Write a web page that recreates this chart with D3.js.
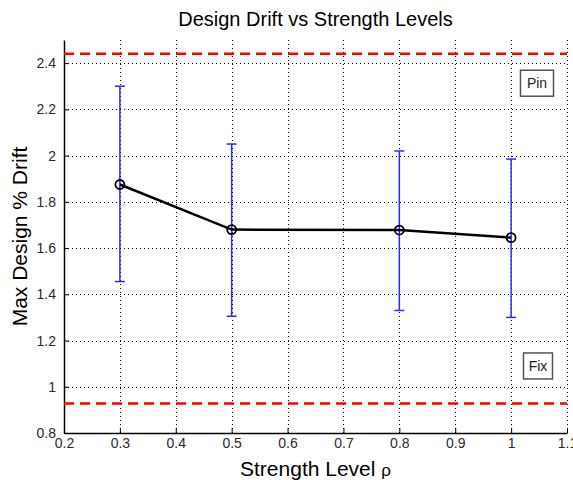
<!DOCTYPE html>
<html>
<head>
<meta charset="utf-8">
<script src="https://cdn.jsdelivr.net/npm/d3@7"></script>
<style>
  html, body { margin: 0; padding: 0; background: #fff; }
  svg { display: block; font-family: "Liberation Sans", Arial, Helvetica, sans-serif; }
</style>
</head>
<body>
<svg id="chart" width="573" height="480"></svg>
<script>
// Strength levels and drift statistics
const strengthLevels = [0.3, 0.5, 0.8, 1.0];
const meanDrift = [1.875, 1.68, 1.678, 1.645];
const upperDrift = [2.30, 2.05, 2.02, 1.985];
const lowerDrift = [1.455, 1.305, 1.33, 1.30];

// Reference limits
const limitLabels = ["Pin", "Fix"];
const limitValues = [2.44, 0.928];

// Axis ticks
const xTicks = [0.2, 0.3, 0.4, 0.5, 0.6, 0.7, 0.8, 0.9, 1.0, 1.1];
const yTicks = [0.8, 1.0, 1.2, 1.4, 1.6, 1.8, 2.0, 2.2, 2.4];

(function () {
const svg = d3.select("#chart");
const plotL = 64, plotR = 567, plotT = 40, plotB = 433;

const x = d3.scaleLinear().domain([0.2, 1.1]).range([plotL, plotR]);
const y = d3.scaleLinear().domain([0.8, 2.5]).range([plotB, plotT]);

// Dotted grid
const grid = svg.append("g").attr("stroke", "#000").attr("stroke-width", 1)
  .attr("stroke-dasharray", "1,3");
grid.selectAll(".gx").data(xTicks.slice(1)).join("line")
  .attr("x1", d => Math.round(x(d)) + 0.5).attr("x2", d => Math.round(x(d)) + 0.5)
  .attr("y1", plotT).attr("y2", plotB);
grid.selectAll(".gy").data(yTicks.slice(1)).join("line")
  .attr("y1", d => Math.round(y(d)) + 0.5).attr("y2", d => Math.round(y(d)) + 0.5)
  .attr("x1", plotL).attr("x2", plotR);

// Axes with inward ticks
const xAxis = d3.axisBottom(x).tickValues(xTicks).tickSizeInner(-5).tickSizeOuter(0)
  .tickPadding(7).tickFormat(d3.format("~g"));
const yAxis = d3.axisLeft(y).tickValues(yTicks).tickSizeInner(-5).tickSizeOuter(0)
  .tickPadding(8).tickFormat(d3.format("~g"));

const gx = svg.append("g").attr("transform", `translate(0,${plotB})`).call(xAxis);
const gy = svg.append("g").attr("transform", `translate(${plotL},0)`).call(yAxis);
[gx, gy].forEach(g => {
  g.select(".domain").attr("stroke", "#000").attr("stroke-width", 1.5);
  g.selectAll(".tick line").attr("stroke", "#000");
  g.selectAll(".tick text").attr("fill", "#2a2a2a").style("font-size", "14px")
    .style("font-family", "'Liberation Sans', Arial, sans-serif");
});
gx.selectAll(".tick text").attr("dy", "0.6em");

// Limit lines
svg.append("g").selectAll("line").data(limitValues).join("line")
  .attr("x1", plotL).attr("x2", plotR)
  .attr("y1", d => y(d)).attr("y2", d => y(d))
  .attr("stroke", "#ff0000").attr("stroke-width", 2.5)
  .attr("stroke-dasharray", "10,6");

// Error bars
const eb = svg.append("g").attr("stroke", "#2b2bff").attr("stroke-width", 1.5);
strengthLevels.forEach((s, i) => {
  eb.append("line").attr("x1", x(s)).attr("x2", x(s))
    .attr("y1", y(upperDrift[i])).attr("y2", y(lowerDrift[i]));
  [upperDrift[i], lowerDrift[i]].forEach(v => {
    eb.append("line").attr("x1", x(s) - 5).attr("x2", x(s) + 5)
      .attr("y1", y(v)).attr("y2", y(v));
  });
});

// Mean drift line and markers
const pts = strengthLevels.map((s, i) => [s, meanDrift[i]]);
svg.append("path").datum(pts)
  .attr("d", d3.line().x(d => x(d[0])).y(d => y(d[1])))
  .attr("fill", "none").attr("stroke", "#000").attr("stroke-width", 2.5);
svg.append("g").selectAll("circle").data(pts).join("circle")
  .attr("cx", d => x(d[0])).attr("cy", d => y(d[1])).attr("r", 4.5)
  .attr("fill", "none").attr("stroke", "#000").attr("stroke-width", 1.8);

// Limit labels
const labelBoxes = [
  { text: limitLabels[0], yv: 2.313, cx: 537, w: 33 },
  { text: limitLabels[1], yv: 1.09, cx: 538, w: 29 }
];
labelBoxes.forEach(b => {
  const g = svg.append("g");
  const cy = y(b.yv);
  g.append("rect").attr("x", b.cx - b.w / 2).attr("y", cy - 13).attr("width", b.w).attr("height", 26)
    .attr("fill", "#fff").attr("stroke", "#555").attr("stroke-width", 1.5);
  g.append("text").attr("x", b.cx).attr("y", cy).attr("dy", "0.36em")
    .attr("text-anchor", "middle").attr("fill", "#222").style("font-size", "14px").text(b.text);
});

// Titles
svg.append("text").attr("x", (plotL + plotR) / 2).attr("y", 26)
  .attr("text-anchor", "middle").style("font-size", "20px").attr("fill", "#000")
  .text("Design Drift vs Strength Levels");
const xl = svg.append("text").attr("x", (plotL + plotR) / 2).attr("y", 476)
  .attr("text-anchor", "middle").style("font-size", "21px").attr("fill", "#000");
xl.append("tspan").text("Strength Level ");
xl.append("tspan").style("font-size", "17px").text("ρ");
svg.append("text").attr("transform", `translate(27,${(plotT + plotB) / 2}) rotate(-90)`)
  .attr("text-anchor", "middle").style("font-size", "21px").attr("fill", "#000")
  .text("Max Design % Drift");
})();
</script>
</body>
</html>
